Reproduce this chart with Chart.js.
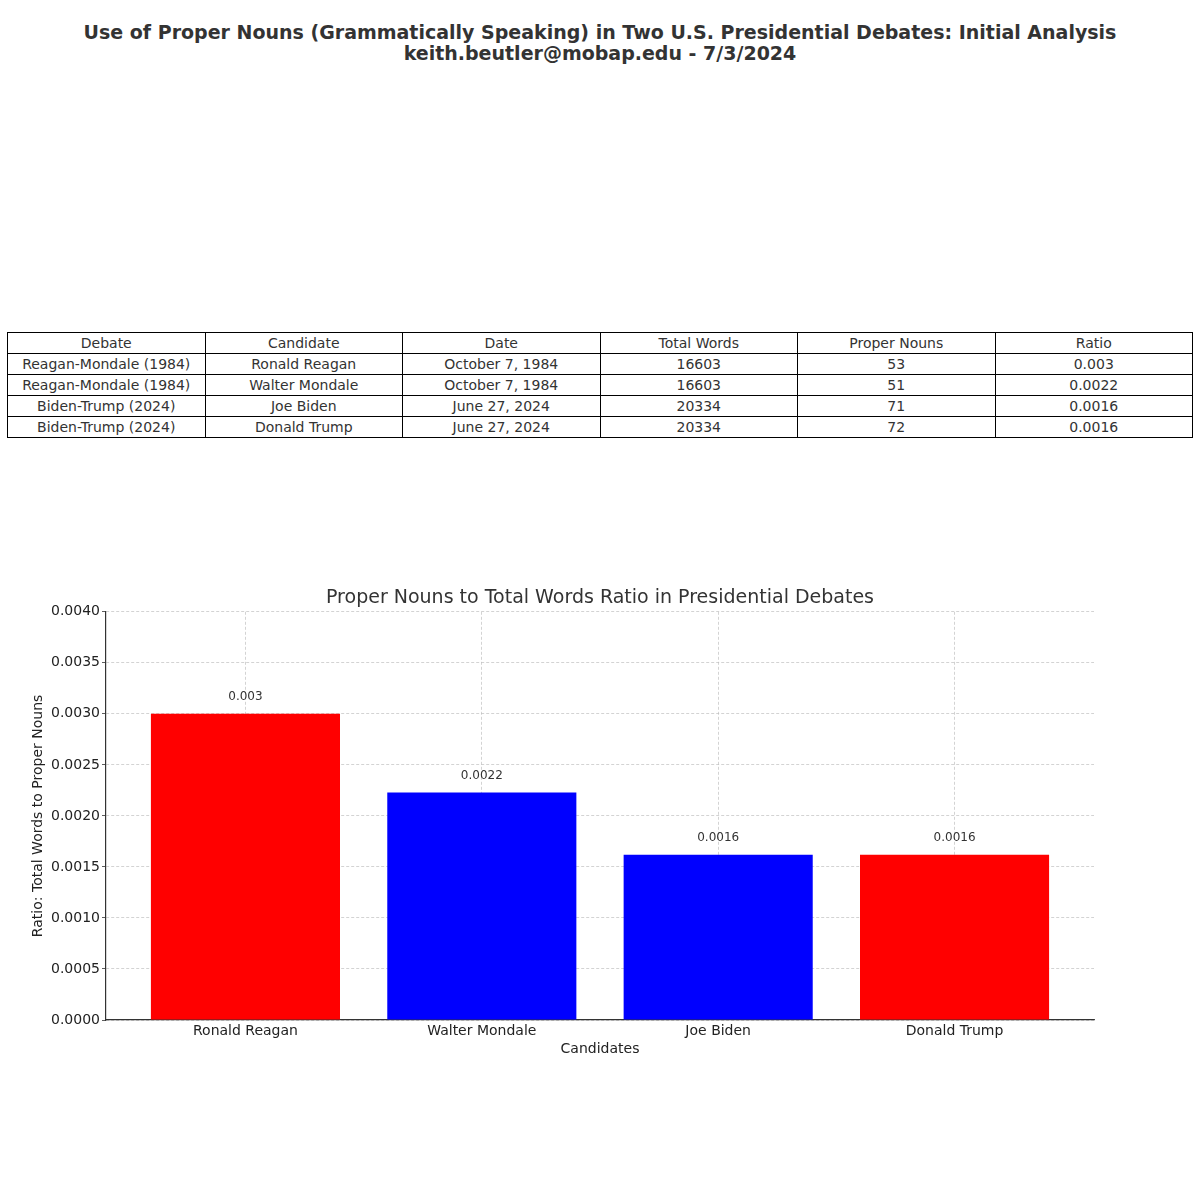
<!DOCTYPE html>
<html>
<head>
<meta charset="utf-8">
<script src="https://cdn.jsdelivr.net/npm/chart.js@4"></script>
<style>
  body { margin: 0; background: #fff; font-family: "DejaVu Sans", sans-serif; color: #333; }
  #page { position: relative; width: 1200px; height: 1200px; }
  #title { position: absolute; left: 0; top: 22px; width: 1200px; text-align: center;
           font-weight: bold; font-size: 19px; line-height: 21px; color: #333; }
  #tbl { position: absolute; left: 7px; top: 332px; width: 1186px; border-collapse: collapse;
         table-layout: fixed; font-size: 14px; color: #333; }
  #tbl td { border: 1.3px solid #000; text-align: center; height: 20px; padding: 0; line-height: 20px; }
  #box { position: absolute; left: 0; top: 560px; width: 1200px; height: 520px; }
</style>
</head>
<body>
<div id="page">
  <div id="title">Use of Proper Nouns (Grammatically Speaking) in Two U.S. Presidential Debates: Initial Analysis<br>keith.beutler@mobap.edu - 7/3/2024</div>
  <table id="tbl"></table>
  <div id="box"><canvas id="myChart"></canvas></div>
</div>
<script>
const headers = ['Debate', 'Candidate', 'Date', 'Total Words', 'Proper Nouns', 'Ratio'];
const debates = ['Reagan-Mondale (1984)', 'Reagan-Mondale (1984)', 'Biden-Trump (2024)', 'Biden-Trump (2024)'];
const candidates = ['Ronald Reagan', 'Walter Mondale', 'Joe Biden', 'Donald Trump'];
const dates = ['October 7, 1984', 'October 7, 1984', 'June 27, 2024', 'June 27, 2024'];
const totalWords = [16603, 16603, 20334, 20334];
const properNouns = [53, 51, 71, 72];
const ratioLabels = ['0.003', '0.0022', '0.0016', '0.0016'];
// bar heights
const ratios = [0.003, 0.00223, 0.00162, 0.00162];
const barColors = ['#ff0000', '#0000ff', '#0000ff', '#ff0000'];

// build the table
const tbl = document.getElementById('tbl');
let html = '<tr>' + headers.map(h => '<td>' + h + '</td>').join('') + '</tr>';
for (let i = 0; i < candidates.length; i++) {
    html += '<tr><td>' + debates[i] + '</td><td>' + candidates[i] + '</td><td>' + dates[i] +
        '</td><td>' + totalWords[i] + '</td><td>' + properNouns[i] + '</td><td>' + ratioLabels[i] + '</td></tr>';
}
tbl.innerHTML = html;

Chart.defaults.font.family = '"DejaVu Sans", sans-serif';
Chart.defaults.color = '#333';

const valueLabels = {
    id: 'valueLabels',
    afterDatasetsDraw(chart) {
        const ctx = chart.ctx;
        const meta = chart.getDatasetMeta(0);
        ctx.save();
        ctx.font = '12px "DejaVu Sans", sans-serif';
        ctx.fillStyle = '#333';
        ctx.textAlign = 'center';
        ctx.textBaseline = 'middle';
        meta.data.forEach((bar, i) => {
            ctx.fillText(ratioLabels[i], bar.x, bar.y - 17);
        });
        ctx.restore();
    }
};

const config = {
    type: 'bar',
    data: {
        datasets: [{
            data: candidates.map((c, i) => ({ x: i, y: ratios[i] })),
            backgroundColor: barColors,
            borderWidth: 0,
            barPercentage: 0.8,
            categoryPercentage: 1
        }]
    },
    options: {
        responsive: true,
        maintainAspectRatio: false,
        animation: false,
        layout: { padding: { left: 0, right: 106, top: 0, bottom: 0 } },
        plugins: {
            legend: { display: false },
            tooltip: { enabled: false },
            title: {
                display: true,
                fullSize: false,
                text: 'Proper Nouns to Total Words Ratio in Presidential Debates',
                font: { size: 19, weight: 'normal' },
                color: '#333',
                padding: { top: 27, bottom: 2 }
            }
        },
        scales: {
            x: {
                type: 'linear',
                min: -0.59,
                max: 3.59,
                z: 1,
                offset: false,
                afterBuildTicks: (scale) => { scale.ticks = candidates.map((c, i) => ({ value: i })); },
                afterFit: (scale) => { scale.height = 60; },
                ticks: {
                    callback: (v) => candidates[v],
                    font: { size: 14 },
                    color: '#222',
                    padding: 3,
                    maxRotation: 0,
                    autoSkip: false
                },
                grid: {
                    offset: false,
                    color: 'rgba(185,185,185,0.8)',
                    lineWidth: 0.8,
                    drawTicks: false
                },
                // in v4 border.dash dashes the grid lines
                border: { display: true, color: '#333', width: 1.2, dash: [3, 2] },
                title: {
                    display: true,
                    text: 'Candidates',
                    font: { size: 14 },
                    color: '#222',
                    padding: { top: 4, bottom: 22 }
                }
            },
            y: {
                min: 0,
                max: 0.004,
                z: 1,
                afterFit: (scale) => { scale.width = 106; },
                ticks: {
                    stepSize: 0.0005,
                    callback: (v) => v.toFixed(4),
                    font: { size: 14 },
                    color: '#222',
                    padding: 2
                },
                grid: {
                    color: 'rgba(185,185,185,0.8)',
                    lineWidth: 0.8,
                    tickColor: '#333',
                    tickLength: 4,
                    tickBorderDash: [],
                    drawTicks: true
                },
                border: { display: true, color: '#333', width: 1.2, dash: [3, 2] },
                title: {
                    display: true,
                    text: 'Ratio: Total Words to Proper Nouns',
                    font: { size: 14 },
                    color: '#222',
                    padding: { top: 30, bottom: 0 }
                }
            }
        }
    },
    plugins: [valueLabels]
};

const myChart = new Chart(
    document.getElementById('myChart'),
    config
);
</script>
</body>
</html>
